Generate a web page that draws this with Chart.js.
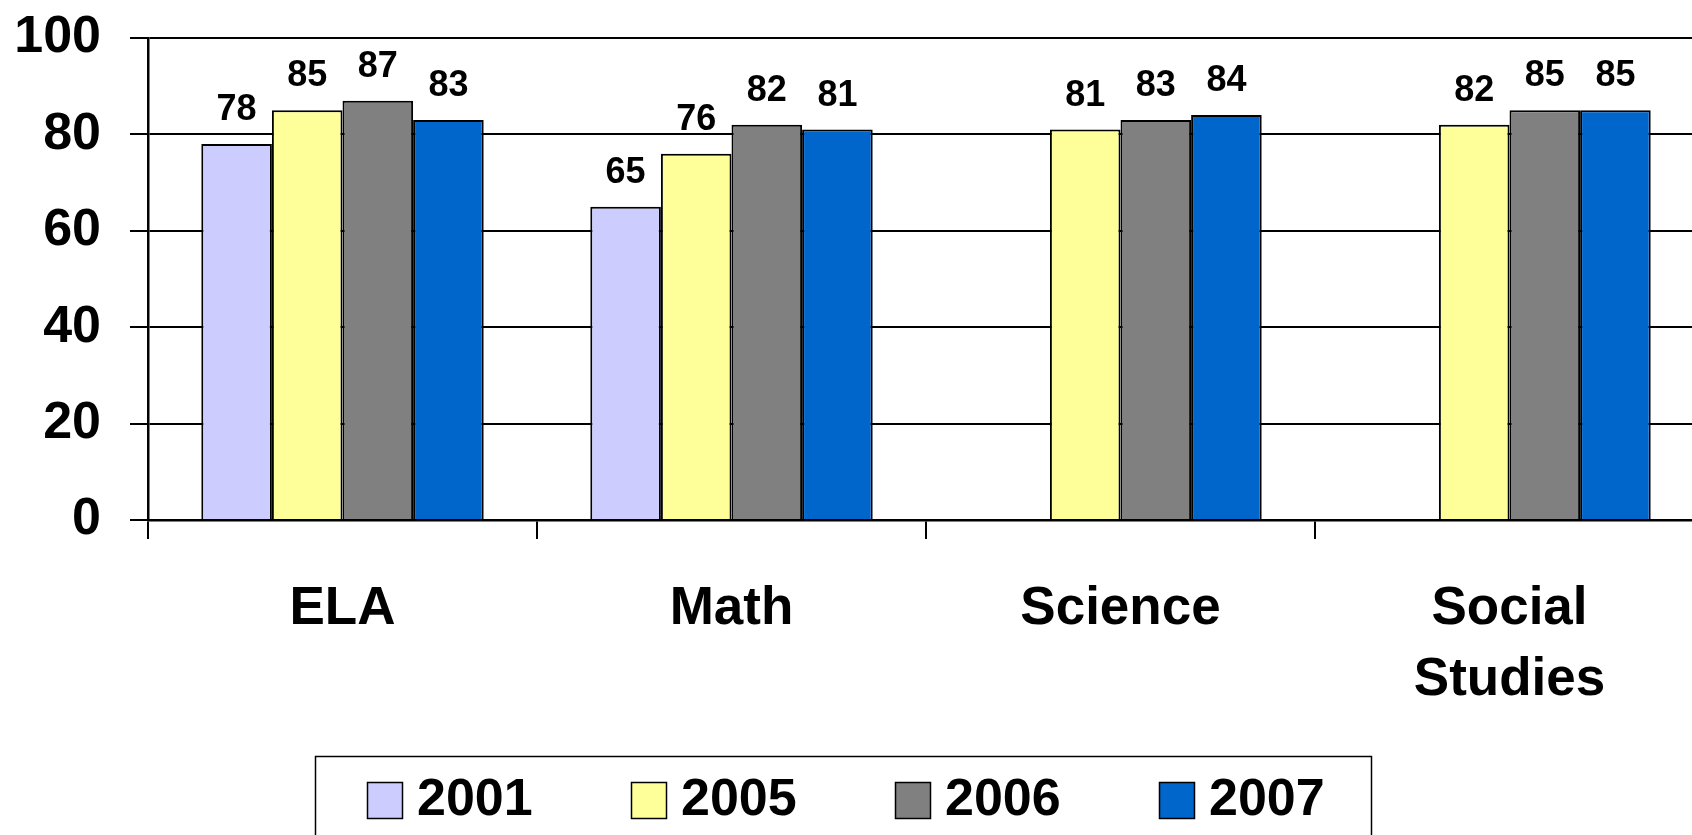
<!DOCTYPE html>
<html>
<head>
<meta charset="utf-8">
<script src="https://cdn.jsdelivr.net/npm/chart.js@4"></script>
<style>
  html, body { margin: 0; padding: 0; background: #fff; overflow: hidden; }
  #wrap { width: 1720px; height: 835px; }
</style>
</head>
<body>
<div id="wrap"><canvas id="c" width="1720" height="835"></canvas></div>
<script>
const categories = ['ELA', 'Math', 'Science', ['Social', 'Studies']];
const years = ['2001', '2005', '2006', '2007'];
const v2001 = [78, 65, null, null];
const v2005 = [85, 76, 81, 82];
const v2006 = [87, 82, 83, 85];
const v2007 = [83, 81, 84, 85];
const yTicks = [0, 20, 40, 60, 80, 100];
const colors = ['#CCCCFF', '#FFFF99', '#808080', '#0066CC'];

const FONT = '"Liberation Sans", Arial, sans-serif';
const series = [v2001, v2005, v2006, v2007];

const valueLabels = {
  id: 'valueLabels',
  afterDatasetsDraw(chart) {
    const ctx = chart.ctx;
    ctx.save();
    ctx.font = 'bold 36px ' + FONT;
    ctx.fillStyle = '#000';
    ctx.textAlign = 'center';
    ctx.textBaseline = 'alphabetic';
    chart.data.datasets.forEach((ds, i) => {
      const meta = chart.getDatasetMeta(i);
      meta.data.forEach((bar, j) => {
        const v = ds.data[j];
        if (v === null || v === undefined) return;
        ctx.fillText(String(v), bar.x, bar.y - 24);
      });
    });
    ctx.restore();
  }
};

const boxLegend = {
  id: 'boxLegend',
  afterDraw(chart) {
    const ctx = chart.ctx;
    ctx.save();
    ctx.lineWidth = 1.5;
    ctx.strokeStyle = '#000';
    ctx.strokeRect(315.5, 756.5, 1056, 120);
    ctx.font = 'bold 52px ' + FONT;
    ctx.textBaseline = 'middle';
    ctx.textAlign = 'left';
    chart.data.datasets.forEach((ds, i) => {
      const x = 367 + i * 264;
      ctx.fillStyle = ds.backgroundColor;
      ctx.fillRect(x, 782, 35, 36);
      ctx.strokeRect(x + 0.5, 782.5, 35, 36);
      ctx.fillStyle = '#000';
      ctx.fillText(ds.label, x + 50, 801);
    });
    ctx.restore();
  }
};

new Chart(document.getElementById('c'), {
  type: 'bar',
  data: {
    labels: categories,
    datasets: years.map((y, i) => ({
      label: y,
      data: series[i],
      backgroundColor: colors[i],
      borderColor: '#000',
      borderWidth: 2,
      barPercentage: 1,
      categoryPercentage: 0.726
    }))
  },
  options: {
    responsive: false,
    animation: false,
    devicePixelRatio: 1,
    layout: { padding: { top: 38, right: 16, bottom: 115, left: 0 } },
    plugins: { legend: { display: false }, tooltip: { enabled: false } },
    scales: {
      x: {
        offset: true,
        grid: { display: true, drawOnChartArea: false, drawTicks: true, tickLength: 19, color: '#000', lineWidth: 2, offset: true },
        border: { display: true, color: '#000', width: 2.5 },
        ticks: { color: '#000', padding: 35, maxRotation: 0, autoSkip: false, font: { family: FONT, size: 53, weight: 'bold', lineHeight: 1.34 } },
        afterFit(scale) { scale.height = 200; scale.paddingLeft = 0; scale.paddingRight = 0; }
      },
      y: {
        min: 0, max: 100,
        afterBuildTicks(scale) { scale.ticks = yTicks.map(v => ({ value: v })); },
        grid: { color: '#000', lineWidth: 2, tickLength: 18 },
        border: { display: true, color: '#000', width: 2.5 },
        ticks: { color: '#000', padding: 29, font: { family: FONT, size: 52, weight: 'bold' } },
        afterFit(scale) { scale.width = 148; scale.paddingTop = 0; scale.paddingBottom = 0; }
      }
    }
  },
  plugins: [valueLabels, boxLegend]
});
</script>
</body>
</html>
